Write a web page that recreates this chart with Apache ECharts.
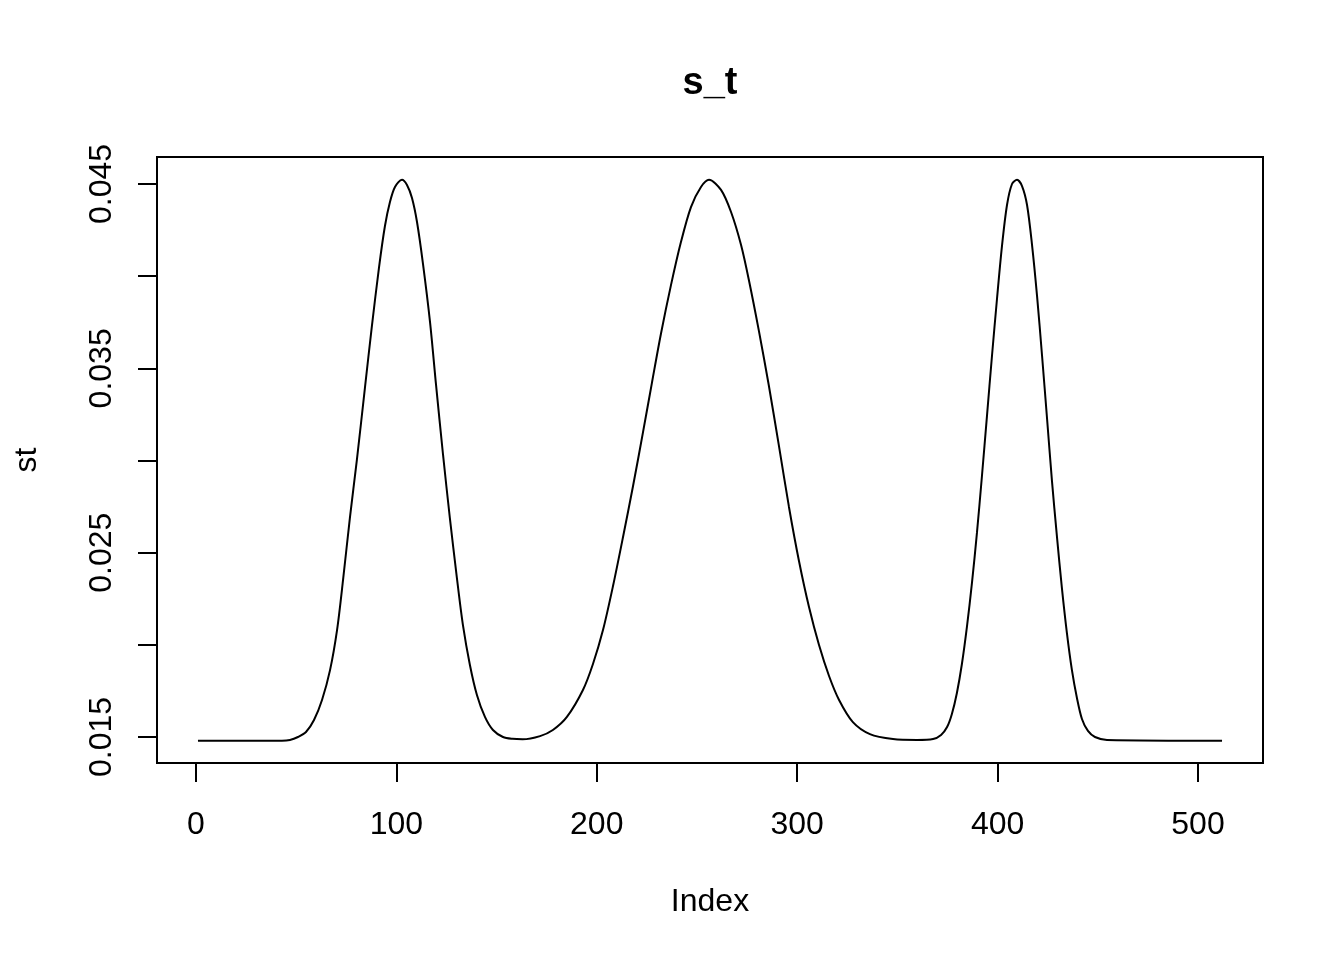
<!DOCTYPE html>
<html>
<head>
<meta charset="utf-8">
<script src="https://cdn.jsdelivr.net/npm/echarts@6/dist/echarts.min.js"></script>
<style>
html,body{margin:0;padding:0;background:#fff;}
#chart{width:1344px;height:960px;}
</style>
</head>
<body>
<div id="chart"></div>
<script>
// Values (sample points along the curve)
var indexValues = [1,42.9,46.9,50.9,54.9,58.9,62.9,66.9,70.4,73.4,76.8,80.3,84.3,87.8,91.3,94.3,96.8,99.3,102.8,105.3,107.8,110.3,113.3,116.8,119.8,123.3,126.7,130.2,133.2,136.7,140.2,144.2,148.2,153.2,158.0,163.0,171.7,178.1,185.1,193.1,198.1,203.1,208.1,213.1,218.1,223.1,227.5,232.0,237.0,242.0,247.0,252.0,256.0,262.0,267.0,272.0,276.0,280.9,285.9,290.9,295.9,300.9,305.9,310.9,315.9,320.9,327.8,336.3,347.8,359.8,367.8,371.8,374.8,377.2,379.7,382.2,384.7,387.2,389.7,392.2,394.7,397.2,399.7,402.2,404.7,407.2,409.7,412.2,414.7,417.2,419.7,422.2,424.7,427.1,429.6,432.1,434.6,437.1,439.6,442.1,445.1,448.6,454.6,512];
var stValues = [0.01480,0.01480,0.01484,0.01500,0.01527,0.01592,0.01701,0.01863,0.02080,0.02352,0.02688,0.03003,0.03393,0.03730,0.04044,0.04272,0.04402,0.04484,0.04523,0.04495,0.04424,0.04294,0.04066,0.03751,0.03410,0.03030,0.02688,0.02363,0.02108,0.01891,0.01728,0.01609,0.01538,0.01500,0.01490,0.01488,0.01505,0.01538,0.01609,0.01755,0.01896,0.02080,0.02319,0.02585,0.02862,0.03155,0.03420,0.03686,0.03950,0.04185,0.04375,0.04484,0.04523,0.04468,0.04348,0.04169,0.03974,0.03703,0.03404,0.03079,0.02748,0.02455,0.02205,0.01999,0.01831,0.01701,0.01581,0.01516,0.01489,0.01484,0.01489,0.01511,0.01554,0.01625,0.01739,0.01896,0.02097,0.02335,0.02607,0.02916,0.03241,0.03567,0.03876,0.04164,0.04386,0.04500,0.04523,0.04489,0.04386,0.04169,0.03892,0.03567,0.03225,0.02894,0.02590,0.02308,0.02064,0.01863,0.01712,0.01598,0.01533,0.01500,0.01484,0.01480];
var xTickValues = [0,100,200,300,400,500];
var yTickValues = [0.015,0.020,0.025,0.030,0.035,0.040,0.045];
var yLabelValues = [0.015,0.025,0.035,0.045];
var titleText = 's_t';
var xName = 'Index';
var yName = 'st';

var FONT = '"Liberation Sans", Arial, sans-serif';
var points = indexValues.map(function(x, i){ return [x, stValues[i]]; });

var chart = echarts.init(document.getElementById('chart'), null, {renderer: 'canvas'});
chart.setOption({
  animation: false,
  backgroundColor: '#ffffff',
  title: {
    text: titleText,
    left: 705,
    top: 60,
    textAlign: 'center',
    textStyle: {fontFamily: FONT, fontSize: 38, fontWeight: 'bold', color: '#000'}
  },
  grid: {
    left: 157, top: 157, width: 1106, height: 606,
    show: true, borderColor: '#000', borderWidth: 2, backgroundColor: 'transparent'
  },
  xAxis: {
    type: 'value',
    min: -19.44, max: 532.44,
    name: xName,
    nameLocation: 'middle',
    nameGap: 123,
    nameTextStyle: {fontFamily: FONT, fontSize: 32, color: '#000'},
    axisLine: {show: false, onZero: false},
    splitLine: {show: false},
    axisTick: {show: true, inside: false, length: 19, lineStyle: {color: '#000', width: 2}, customValues: xTickValues},
    axisLabel: {show: true, margin: 46, fontFamily: FONT, fontSize: 32, color: '#000', customValues: xTickValues,
      formatter: function(v){ return String(Math.round(v)); }}
  },
  yAxis: {
    type: 'value',
    min: 0.01359, max: 0.046465,
    name: yName,
    nameLocation: 'middle',
    nameGap: 114,
    nameRotate: 90,
    nameTextStyle: {fontFamily: FONT, fontSize: 32, color: '#000'},
    axisLine: {show: false, onZero: false},
    splitLine: {show: false},
    axisTick: {show: true, inside: false, length: 19, lineStyle: {color: '#000', width: 2}, customValues: yTickValues},
    axisLabel: {show: true, rotate: 90, margin: 39, fontFamily: FONT, fontSize: 32, color: '#000', customValues: yLabelValues,
      formatter: function(v){ return v.toFixed(3); }}
  },
  series: [{
    type: 'line',
    data: points,
    showSymbol: false,
    smooth: 0.3,
    lineStyle: {color: '#000', width: 2},
    silent: true
  }]
});
</script>
</body>
</html>
